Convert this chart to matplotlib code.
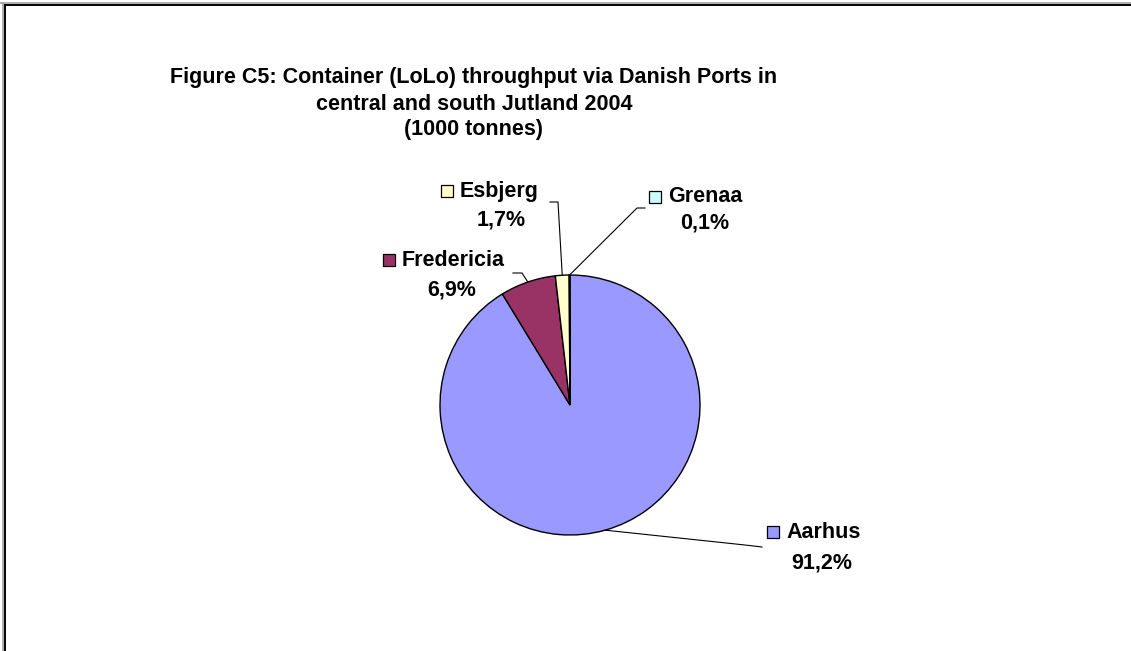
import matplotlib.pyplot as plt
from matplotlib.lines import Line2D
import numpy as np

plt.rcParams['font.family'] = ['Liberation Sans', 'DejaVu Sans']

ports = ['Aarhus', 'Fredericia', 'Esbjerg', 'Grenaa']
shares = [91.2, 6.9, 1.7, 0.1]
pct_labels = ['91,2%', '6,9%', '1,7%', '0,1%']
colors = ['#9999FF', '#993366', '#FFFFCC', '#CCFFFF']
title_lines = ['Figure C5: Container (LoLo) throughput via Danish Ports in',
               'central and south Jutland 2004',
               '(1000 tonnes)']

W, H = 1131, 651
fig = plt.figure(figsize=(W / 100, H / 100), dpi=100)
ax = fig.add_axes([0, 0, 1, 1])

# outer frame (top and left only, like the cropped excel chart)
fig.add_artist(Line2D([0.0, 1.0], [1 - 2.5 / H, 1 - 2.5 / H], color='#a0a0a0', lw=1.2))
fig.add_artist(Line2D([5 / W, 1.0], [1 - 4.5 / H, 1 - 4.5 / H], color='black', lw=1.4))
fig.add_artist(Line2D([3 / W, 3 / W], [0, 1 - 2.5 / H], color='#a0a0a0', lw=1.2))
fig.add_artist(Line2D([5 / W, 5 / W], [0, 1 - 4.5 / H], color='black', lw=1.4))

cx, cy, r = 570, 405, 130
# y axis is flipped below, so startangle=-90 is the top and counterclock runs clockwise
wedges, _ = ax.pie(shares, colors=colors, startangle=-90, counterclock=True,
                   center=(cx, cy), radius=r, frame=True,
                   wedgeprops=dict(edgecolor='black', linewidth=1))
ax.set_xlim(0, W)
ax.set_ylim(H, 0)  # pixel units, y down
ax.set_aspect('equal')
ax.axis('off')

for y, line in zip([78, 104, 130], title_lines):
    ax.text(474, y, line, ha='center', va='center', fontsize=15.5, fontweight='bold')

# label layout: marker centre, pct centre, leader path (from label side)
layout = {
    'Aarhus': dict(mk=(773, 532), pct=(822, 563), path=[(762, 547), (745, 545)]),
    'Fredericia': dict(mk=(389, 260), pct=(452, 290), path=[(513, 273), (522, 273)]),
    'Esbjerg': dict(mk=(447, 191), pct=(501, 220), path=[(550, 202), (558, 202)]),
    'Grenaa': dict(mk=(655, 197), pct=(705, 223), path=[(645, 208), (637, 208)]),
}

for w, name, pct, col in zip(wedges, ports, pct_labels, colors):
    L = layout[name]
    ax.plot(*L['mk'], marker='s', ms=8.5, mfc=col, mec='black', mew=0.9)
    ax.text(L['mk'][0] + 13, L['mk'][1], name, ha='left', va='center',
            fontsize=15.5, fontweight='bold')
    ax.text(*L['pct'], pct, ha='center', va='center', fontsize=15.5, fontweight='bold')
    mid = np.deg2rad((w.theta1 + w.theta2) / 2)
    ex, ey = cx + r * np.cos(mid), cy + r * np.sin(mid)
    xs = [p[0] for p in L['path']] + [ex]
    ys = [p[1] for p in L['path']] + [ey]
    ax.plot(xs, ys, color='black', lw=0.8)

fig.savefig('out.png', dpi=100, facecolor='white')
